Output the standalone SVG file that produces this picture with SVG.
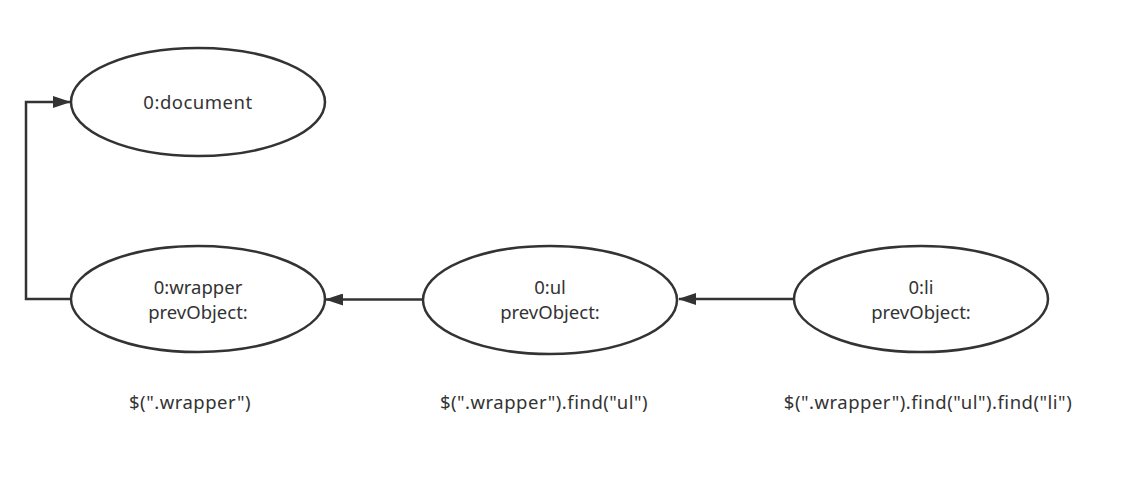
<svg xmlns="http://www.w3.org/2000/svg" width="1125" height="503" viewBox="0 0 1125 503">
<defs>
<marker id="arr" viewBox="0 0 18 12" refX="17" refY="6" markerWidth="18" markerHeight="12" markerUnits="userSpaceOnUse" orient="auto">
<path d="M0,0 L18,6 L0,12 Z" fill="#333"/>
</marker>
<style>
.n{fill:#fff;stroke:#333;stroke-width:2.5}
.t{font-family:"Noto Sans","Open Sans",sans-serif;font-size:18.5px;fill:#333;text-anchor:middle}
.w{letter-spacing:0.5px}
.c{fill:none;stroke:#333;stroke-width:2.5;marker-end:url(#arr)}
</style>
</defs>
<rect width="1125" height="503" fill="#fff"/>
<g id="connectors">
<path class="c" d="M71,299 L26,299 L26,102 L70,102"/>
<path class="c" d="M423,299.5 L326,299.5"/>
<path class="c" d="M793,299 L679,299"/>
</g>
<g id="document">
<ellipse class="n" cx="198" cy="102" rx="127" ry="54"/>
<text class="t w" x="198" y="109">0:document</text>
</g>
<g id="wrapper">
<ellipse class="n" cx="198" cy="299" rx="127" ry="53"/>
<text class="t" x="198" y="294">0:wrapper</text>
<text class="t" x="198" y="319">prevObject:</text>
</g>
<g id="ul">
<ellipse class="n" cx="550" cy="300" rx="127" ry="54"/>
<text class="t" x="550" y="294">0:ul</text>
<text class="t" x="550" y="319">prevObject:</text>
</g>
<g id="li">
<ellipse class="n" cx="921" cy="299" rx="127" ry="53"/>
<text class="t" x="921" y="294">0:li</text>
<text class="t" x="921" y="319">prevObject:</text>
</g>
<g id="labels">
<text class="t w" x="190" y="409">$(".wrapper")</text>
<text class="t w" x="544" y="409">$(".wrapper").find("ul")</text>
<text class="t w" x="928" y="409">$(".wrapper").find("ul").find("li")</text>
</g>
</svg>
